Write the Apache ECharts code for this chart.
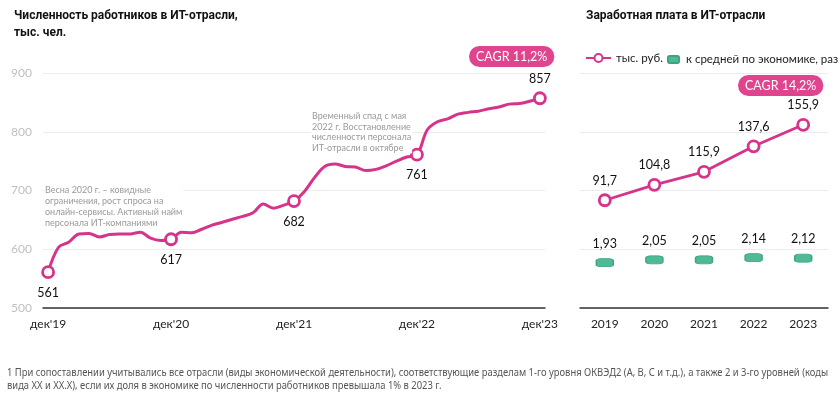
<!DOCTYPE html>
<html><head><meta charset="utf-8">
<script src="https://cdn.jsdelivr.net/npm/echarts@6/dist/echarts.min.js"></script>
<style>html,body{margin:0;padding:0;background:#fff}#c{width:840px;height:393px}</style>
</head><body><div id="c"></div>
<script>
// Left chart: monthly employment, Dec 2019 .. Dec 2023 (thousand people)
const employment = [561,603,612,626,627,621,625,626,626,629,619,615,
  617,629,628,634,641,646,651,656,662,677,670,675,
  682,698,722,741,745,741,740,734,736,742,750,757,
  761,803,817,822,830,833,835,839,842,847,848,852,857];
const employmentTickLabels = ["дек'19","дек'20","дек'21","дек'22","дек'23"];
const employmentYTicks = [500,600,700,800,900];
// Right chart
const years = ["2019","2020","2021","2022","2023"];
const salary = [91.7,104.8,115.9,137.6,155.9];
const ratio = [1.93,2.05,2.05,2.14,2.12];

const PINK = '#d6338b';
const GREEN = '#4fba95';
const FONT = 'Lato, "Noto Sans", sans-serif';
const fmt = v => String(v).replace('.', ',');

const monthIdx = employment.map((_, i) => String(i));
const lastIdx = employment.length - 1;
const yearMarks = employment.map((v, i) => i % 12 === 0 ? {
  value: [String(i), v],
  label: i === lastIdx ? {position: 'top', distance: 6} : {position: 'bottom', distance: 7}
} : null).filter(Boolean);

const chart = echarts.init(document.getElementById('c'), null, {renderer: 'canvas'});
chart.setOption({
  animation: false,
  textStyle: {fontFamily: FONT},
  title: [
    {text: 'Численность работников в ИТ-отрасли,\nтыс. чел.', left: 9, top: 2,
     textStyle: {fontFamily: 'Roboto, sans-serif', fontWeight: 'bold', fontSize: 12, lineHeight: 17, color: '#111'}},
    {text: 'Заработная плата в ИТ-отрасли', left: 581, top: 2,
     textStyle: {fontFamily: 'Roboto, sans-serif', fontWeight: 'bold', fontSize: 12, lineHeight: 17, color: '#111'}},
    {text: 'CAGR 11,2%', left: 469, top: 46, backgroundColor: '#e0448f', borderRadius: 11, padding: [4, 7],
     textStyle: {fontFamily: FONT, fontWeight: 'normal', fontSize: 12.5, color: '#fff'}},
    {text: 'CAGR 14,2%', left: 738, top: 75, backgroundColor: '#e0448f', borderRadius: 11, padding: [4, 7],
     textStyle: {fontFamily: FONT, fontWeight: 'normal', fontSize: 12.5, color: '#fff'}}
  ],
  legend: [
    {left: 585, top: 52, padding: 0, itemWidth: 25, itemHeight: 10, itemGap: 10,
     data: ['тыс. руб.'], textStyle: {fontSize: 11.5, color: '#222', fontFamily: FONT}},
    {left: 667, top: 53.5, padding: 0, itemWidth: 11, itemHeight: 7, icon: 'roundRect',
     data: ['к средней по экономике, раз'], textStyle: {fontSize: 11.5, color: '#222', fontFamily: FONT, padding: [0, 0, 0, 2]}}
  ],
  grid: [
    {left: 43, right: 295, top: 73, bottom: 85},
    {left: 580, right: 12, top: 73, bottom: 85}
  ],
  xAxis: [
    {gridIndex: 0, type: 'category', data: monthIdx, boundaryGap: true,
     axisTick: {show: false}, axisLine: {lineStyle: {color: '#333', width: 1.5}},
     axisLabel: {interval: 11, color: '#222', fontSize: 12, margin: 10,
       formatter: (v) => employmentTickLabels[Number(v) / 12] || ''}},
    {gridIndex: 1, type: 'category', data: years, boundaryGap: true,
     axisTick: {show: false}, axisLine: {lineStyle: {color: '#333', width: 1.5}},
     axisLabel: {color: '#222', fontSize: 12, margin: 10}}
  ],
  yAxis: [
    {gridIndex: 0, type: 'value', min: employmentYTicks[0], max: employmentYTicks[employmentYTicks.length - 1], interval: 100,
     axisLine: {show: false}, axisTick: {show: false},
     axisLabel: {color: '#c0c0c0', fontSize: 12, margin: 11},
     splitLine: {lineStyle: {color: '#ececec', width: 1}}},
    {gridIndex: 1, type: 'value', min: 0, max: 200, interval: 50,
     axisLine: {show: false}, axisTick: {show: false}, axisLabel: {show: false},
     splitLine: {lineStyle: {color: '#ececec', width: 1}}},
    {gridIndex: 1, type: 'value', min: 0, max: 10, interval: 2.5,
     axisLine: {show: false}, axisTick: {show: false}, axisLabel: {show: false},
     splitLine: {show: false}}
  ],
  series: [
    {type: 'line', name: 'employment', xAxisIndex: 0, yAxisIndex: 0, data: employment,
     smooth: 0.35, symbol: 'none', lineStyle: {color: PINK, width: 3}, z: 3},
    {type: 'scatter', name: 'employmentMarks', xAxisIndex: 0, yAxisIndex: 0, data: yearMarks,
     symbol: 'circle', symbolSize: 11,
     itemStyle: {color: '#fff', borderColor: PINK, borderWidth: 2.8, opacity: 1}, z: 4,
     label: {show: true, color: '#111', fontSize: 12.5, formatter: p => fmt(p.value[1])},
     emphasis: {disabled: true}},
    {type: 'line', name: 'тыс. руб.', xAxisIndex: 1, yAxisIndex: 1, data: salary,
     symbol: 'circle', symbolSize: 11, showSymbol: true,
     lineStyle: {color: PINK, width: 2.8},
     itemStyle: {color: '#fff', borderColor: PINK, borderWidth: 2.8},
     label: {show: true, position: 'top', distance: 6, color: '#111', fontSize: 12.5, formatter: p => fmt(p.value)},
     z: 4},
    {type: 'scatter', name: 'к средней по экономике, раз', xAxisIndex: 1, yAxisIndex: 2, data: ratio,
     symbol: 'roundRect', symbolSize: [17, 8],
     itemStyle: {color: GREEN, borderColor: '#3aa680', borderWidth: 1, opacity: 1},
     label: {show: true, position: 'top', distance: 8, color: '#111', fontSize: 12.5, formatter: p => fmt(p.value)}}
  ],
  graphic: [
    {type: 'text', left: 44, top: 185, z: 50,
     style: {text: 'Весна 2020 г. – ковидные\nограничения, рост спроса на\nонлайн-сервисы. Активный найм\nперсонала ИТ-компаниями',
       fill: '#9a9a9a', font: '9px Lato, "Noto Sans", sans-serif', lineHeight: 11, backgroundColor: '#fff', padding: [0, 1]}},
    {type: 'text', left: 311, top: 111, z: 50,
     style: {text: 'Временный спад с мая\n2022 г. Восстановление\nчисленности персонала\nИТ-отрасли в октябре',
       fill: '#9a9a9a', font: '9px Lato, "Noto Sans", sans-serif', lineHeight: 10.6, backgroundColor: '#fff', padding: [0, 1]}},
    {type: 'text', left: 7, top: 367, scaleX: 0.94, originX: 0,
     style: {text: '1 При сопоставлении учитывались все отрасли (виды экономической деятельности), соответствующие разделам 1-го уровня ОКВЭД2 (А, В, С и т.д.), а также 2 и 3-го уровней (коды\nвида XX и XX.X), если их доля в экономике по численности работников превышала 1% в 2023 г.',
       fill: '#555', font: '10px "Noto Sans", sans-serif', lineHeight: 12.5}}
  ]
});
</script></body></html>
